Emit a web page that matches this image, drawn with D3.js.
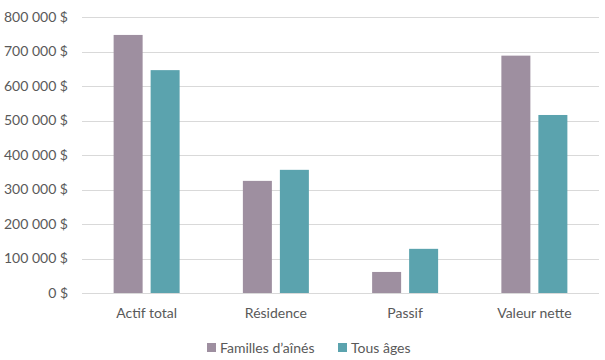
<!DOCTYPE html>
<html><head><meta charset="utf-8">
<script src="https://cdn.jsdelivr.net/npm/d3@7"></script>
<style>body{margin:0;background:#fff}svg text{font-family:Lato,"Open Sans",sans-serif;fill:#595959}</style>
</head><body><svg id="c" width="605" height="360"></svg>
<script>
const categories = ["Actif total","Résidence","Passif","Valeur nette"];
const seriesNames = ["Familles d’aînés","Tous âges"];
const seniors = [748000, 325000, 61000, 688000];
const allAges = [646000, 357000, 128000, 516000];
const yTicks = [0,100000,200000,300000,400000,500000,600000,700000,800000];
const colors = ["#9E8FA0","#5BA3AE"];

(function(){
const svg = d3.select("#c");
const mLeft = 82, mRight = 599, mTop = 17, mBottom = 293;
const x = d3.scaleBand().domain(categories).range([mLeft,mRight]);
const x1 = d3.scaleBand().domain([0,1]).range([0,66]).paddingInner(8/37);
const y = d3.scaleLinear().domain([0,800000]).range([mBottom,mTop]);
const fmt = v => d3.format(",")(v).replace(/,/g," ") + " $";

svg.append("g").selectAll("line").data(yTicks).join("line")
  .attr("x1",mLeft).attr("x2",mRight)
  .attr("y1",d=>Math.round(y(d))+0.5).attr("y2",d=>Math.round(y(d))+0.5)
  .attr("stroke","#D9D9D9").attr("stroke-width",1);

svg.append("g").selectAll("text").data(yTicks).join("text")
  .attr("x",68).attr("y",d=>y(d)).attr("dy","0.35em")
  .attr("text-anchor","end").style("font-size","14px").text(fmt);

const data = [seniors, allAges];
data.forEach((vals,si)=>{
  svg.append("g").selectAll("rect").data(vals).join("rect")
    .attr("x",(d,i)=>x(categories[i]) + x.bandwidth()/2 - 33 + x1(si))
    .attr("width",x1.bandwidth())
    .attr("y",d=>y(d)).attr("height",d=>mBottom-y(d))
    .attr("fill",colors[si]);
});

svg.append("g").selectAll("text").data(categories).join("text")
  .attr("x",d=>x(d)+x.bandwidth()/2).attr("y",318)
  .attr("text-anchor","middle").style("font-size","14px").text(d=>d);

const legX = [207, 338];
seriesNames.forEach((n,i)=>{
  svg.append("rect").attr("x",legX[i]).attr("y",343).attr("width",9).attr("height",9).attr("fill",colors[i]);
  svg.append("text").attr("x",legX[i]+13).attr("y",352.5).style("font-size","14px").text(n);
});
})();
</script></body></html>
